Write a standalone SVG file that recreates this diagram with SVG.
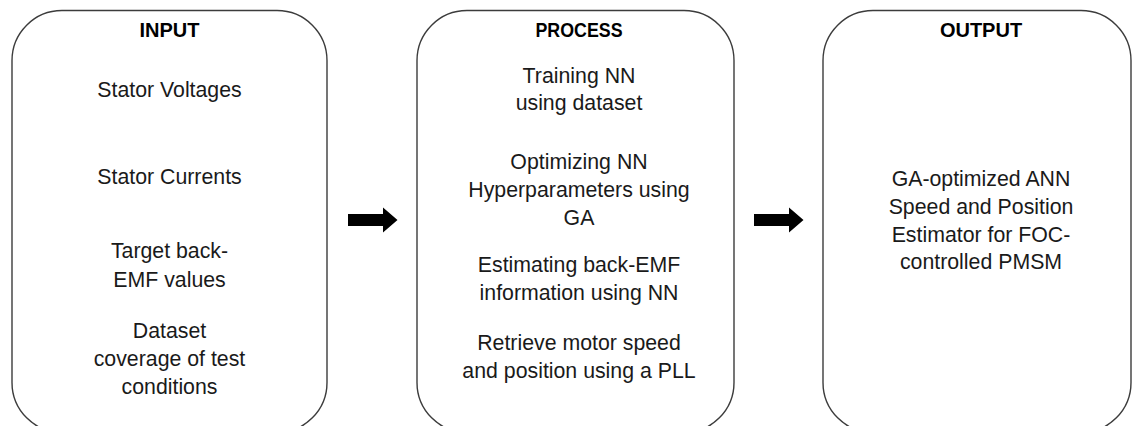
<svg xmlns="http://www.w3.org/2000/svg" width="1133" height="426" viewBox="0 0 1133 426">
  <style>
    .box { fill: #ffffff; stroke: #3c3c3c; stroke-width: 1.4; }
    .title { font-family: "Liberation Sans", Arial, sans-serif; font-size: 20px; font-weight: bold; fill: #000000; text-anchor: middle; }
    .body { font-family: "Liberation Sans", Arial, sans-serif; font-size: 21.3px; fill: #1a1a1a; text-anchor: middle; }
    .arrow { fill: #000000; }
  </style>
  <rect width="1133" height="426" fill="#ffffff"/>

  <!-- Input stage -->
  <g id="input">
    <rect class="box" x="12" y="10.5" width="315" height="422" rx="50" ry="50"/>
    <text class="title" x="169.5" y="37">INPUT</text>
    <text class="body" x="169.5" y="96.5">Stator Voltages</text>
    <text class="body" x="169.5" y="183.5">Stator Currents</text>
    <text class="body" x="169.5" y="258">Target back-</text>
    <text class="body" x="169.5" y="286.5">EMF values</text>
    <text class="body" x="169.5" y="338">Dataset</text>
    <text class="body" x="169.5" y="366">coverage of test</text>
    <text class="body" x="169.5" y="394">conditions</text>
  </g>

  <!-- Process stage -->
  <g id="process">
    <rect class="box" x="417" y="10.5" width="317" height="422" rx="50" ry="50"/>
    <text class="title" x="579" y="37" textLength="87" lengthAdjust="spacingAndGlyphs">PROCESS</text>
    <text class="body" x="579" y="82.5">Training NN</text>
    <text class="body" x="579" y="110">using dataset</text>
    <text class="body" x="579" y="168.5">Optimizing NN</text>
    <text class="body" x="579" y="197">Hyperparameters using</text>
    <text class="body" x="579" y="225">GA</text>
    <text class="body" x="579" y="272">Estimating back-EMF</text>
    <text class="body" x="579" y="300">information using NN</text>
    <text class="body" x="579" y="350">Retrieve motor speed</text>
    <text class="body" x="579" y="378">and position using a PLL</text>
  </g>

  <!-- Output stage -->
  <g id="output">
    <rect class="box" x="823" y="10.5" width="308" height="422" rx="50" ry="50"/>
    <text class="title" x="981" y="37">OUTPUT</text>
    <text class="body" x="981" y="186">GA-optimized ANN</text>
    <text class="body" x="981" y="214">Speed and Position</text>
    <text class="body" x="981" y="241.5">Estimator for FOC-</text>
    <text class="body" x="981" y="269">controlled PMSM</text>
  </g>

  <!-- Block arrows between stages -->
  <g id="connectors">
    <path class="arrow" d="M348,214 L383,214 L383,207.5 L397.5,220 L383,232.5 L383,226 L348,226 Z"/>
    <path class="arrow" d="M754,214 L789,214 L789,207.5 L803.5,220 L789,232.5 L789,226 L754,226 Z"/>
  </g>
</svg>
